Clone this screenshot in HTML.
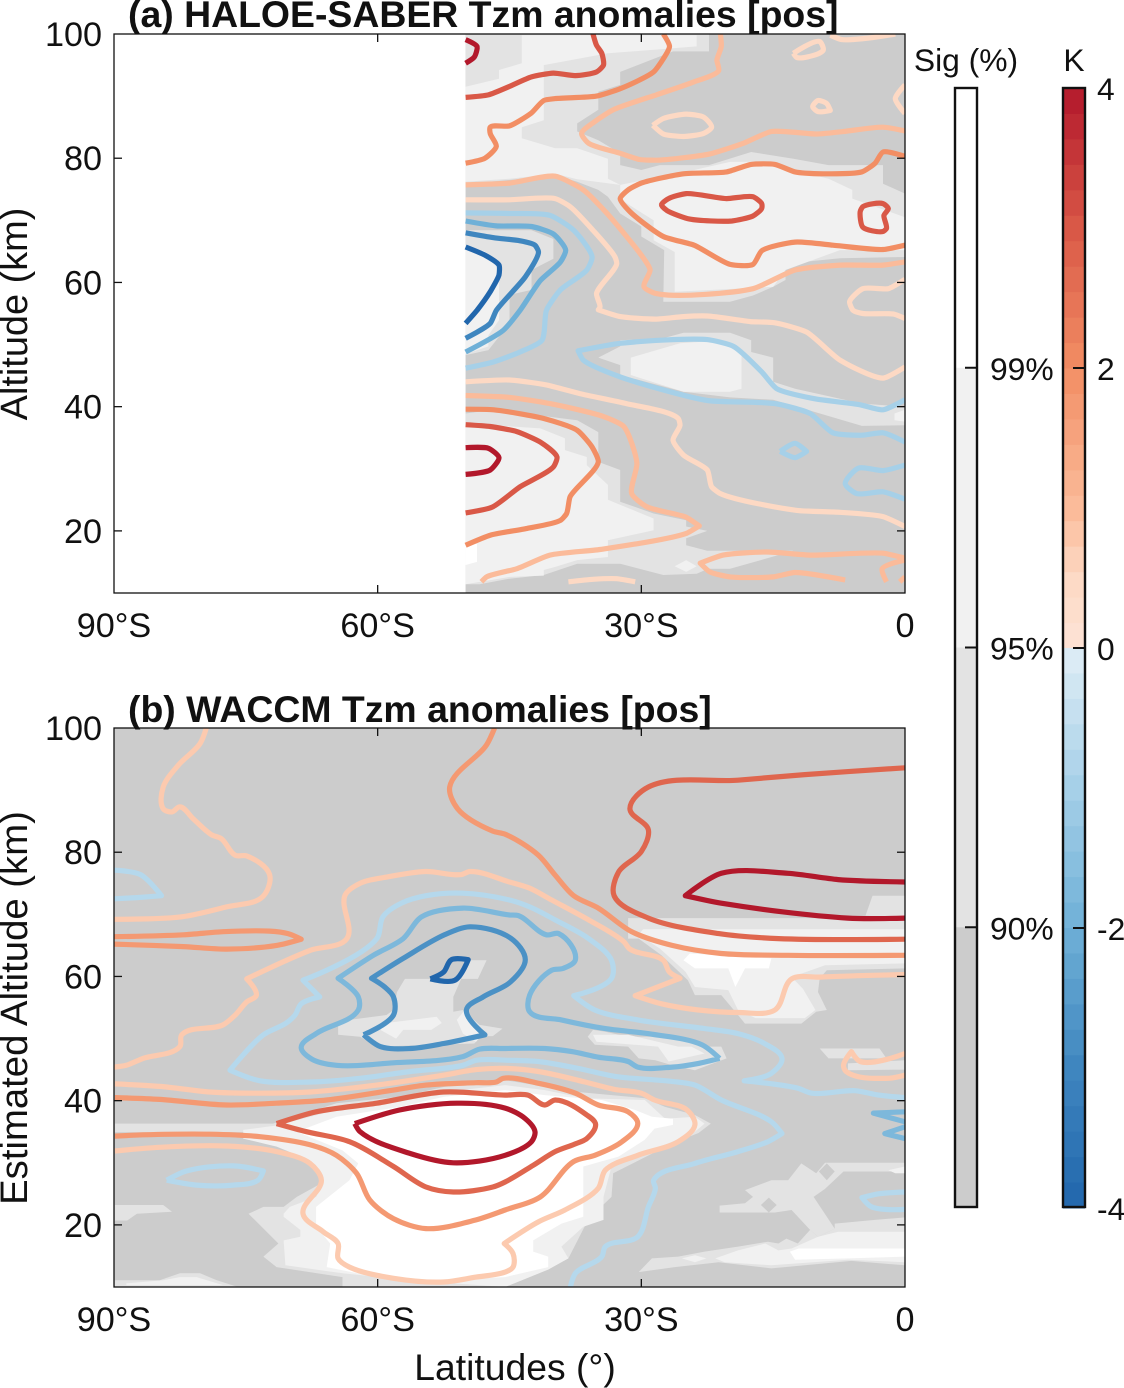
<!DOCTYPE html>
<html lang="en">
<head>
<meta charset="utf-8">
<title>HALOE-SABER and WACCM Tzm anomalies</title>
<style>
html,body{margin:0;padding:0;background:#fff;}
svg{display:block;font-family:"Liberation Sans",Arial,sans-serif;}
</style>
</head>
<body>
<svg id="chart" xmlns="http://www.w3.org/2000/svg" width="1124" height="1388" viewBox="0 0 1124 1388">
<defs>
<clipPath id="clip-a"><rect x="114" y="34" width="791" height="559"/></clipPath>
<clipPath id="clip-b"><rect x="114" y="728" width="791" height="559"/></clipPath>
</defs>
<g id="panel-a"></g>
<g id="panel-b"></g>
<g id="bars"></g>
<text x="128" y="27" font-size="37.4" font-weight="bold" fill="#111">(a) HALOE-SABER Tzm anomalies [pos]</text>
<text x="128" y="722" font-size="37.4" font-weight="bold" fill="#111">(b) WACCM Tzm anomalies [pos]</text>
<text transform="translate(27,314) rotate(-90)" text-anchor="middle" font-size="37.9" fill="#111">Altitude (km)</text>
<text transform="translate(27,1008) rotate(-90)" text-anchor="middle" font-size="38.3" fill="#111">Estimated Altitude (km)</text>
<text x="515" y="1380" text-anchor="middle" font-size="37.3" fill="#111">Latitudes (°)</text>
<text x="966" y="71" text-anchor="middle" font-size="31.8" fill="#111">Sig (%)</text>
<text x="1074" y="71" text-anchor="middle" font-size="31.8" fill="#111">K</text>
</svg>
<script>
const latTicks = [-90, -60, -30, 0];
const latTickLabels = ['90°S', '60°S', '30°S', '0'];
const altTicks = [20, 40, 60, 80, 100];
const altTickLabels = ['20', '40', '60', '80', '100'];

const cmapValues = [-4, -3, -2, -1, 0, 0, 0.5, 1, 2, 3, 4];
const cmapColors = ['#2166ac', '#3f86bf', '#6fb0d7', '#a6d0e8', '#e0eef6', '#fde3d6', '#fdd9c4', '#fbbb9a', '#f28e64', '#d95847', '#b2182b'];
const kelvinTicks = [4, 2, 0, -2, -4];
const sigClasses = [100, 97, 92, 85];
const sigTickLabels = ['99%', '95%', '90%'];

/* significance shading: [significance %, [[lat, alt], ...]] */
const panelAShade = [
[92, [[-50,100],[-22.3,100],[-22.3,97.2],[-26.4,97.2],[-32.4,93.9],[-32.4,91.8],[-34.9,90.7],[-34.9,87.8],[-37.3,85.6],[-37.3,84.3],[-34.9,82.9],[-32.4,80.8],[-32.4,78.9],[-30,78.1],[-27.9,78.9],[-22.3,78.9],[-17.5,81],[-12.7,79.9],[-8.7,78.9],[-2.5,78.9],[-2.5,75.9],[0,74.3],[0,64.1],[-7.4,63.9],[-13.6,63],[-13.6,60.4],[-15,59.3],[-17.3,57.9],[-19.9,56.9],[-27.5,56.9],[-27.4,65.2],[-30,67.4],[-30,69],[-32.4,71.1],[-33.8,73.8],[-34.9,74.9],[-37.3,76.2],[-39.8,77.3],[-45,76.5],[-50,75.9]]],
[97, [[-43.6,99.8],[-23.7,99.8],[-23.7,98],[-33.8,96.9],[-41.1,95],[-41.1,86.1],[-43.6,85],[-43.6,83.2],[-39.8,81.6],[-37.3,81.6],[-33.8,79.9],[-33.8,76.7],[-32.4,75.7],[-37.3,76.6],[-39.8,77.5],[-45,76.7],[-50,76.2],[-50,91.5],[-46.2,92.8],[-46.2,94.2],[-43.6,95.3]]],
[97, [[-32.4,75.7],[-24,78.1],[-19.9,79.4],[-16.5,79.4],[-8.7,76.7],[-6,74.9],[-6,73.5],[0,70.5],[0,65.2],[-7.4,65.2],[-13.6,62],[-15,59.3],[-26.2,58.5],[-26.2,64.9],[-28.6,66.8],[-28.6,70],[-31.3,72.4],[-32.4,73.5]]],
[92, [[-50,68.4],[-42.5,68.4],[-40,67],[-40,63.8],[-42.5,62],[-42.5,58.8],[-45,58],[-45,53.4],[-47.4,49.1],[-50,48.3]]],
[97, [[-50,66],[-47.8,65],[-46.2,63],[-46.2,59.3],[-46.2,55.5],[-46.2,53.9],[-47.4,51.5],[-47.4,49.7],[-50,48.5]]],
[92, [[-34.9,47.9],[-32.4,49.7],[-32.4,50.7],[-27.5,51],[-25.2,51.9],[-19.9,51.9],[-17.5,50.7],[-17.5,48.8],[-15,47.9],[-15,44],[-12.5,42.9],[-4.9,40.5],[0,40],[0,37],[-4.9,36.9],[-10.4,39.2],[-15,41.1],[-19.9,41.5],[-25.2,42.4],[-32.4,45.1],[-32.4,46.7]]],
[97, [[-31.2,47.9],[-25.6,50.2],[-22.5,50.5],[-19.9,50.2],[-18.6,48.8],[-18.6,42.9],[-19.9,42.4],[-25.2,42.4],[-31.2,45.1]]],
[97, [[-1.2,38.9],[0,39.5],[0,37.6],[-1.2,37.8]]],
[92, [[-50,38.9],[-46.8,39.5],[-37.3,37.8],[-34.9,35.9],[-34.9,31.1],[-32.4,29.8],[-32.4,24.7],[-28.6,22.8],[-24.9,21.7],[-24.9,20.7],[-22.5,20],[-24.9,18.8],[-24.9,17.7],[-22.5,16.8],[-12.7,16.8],[-19.9,13.9],[-22.4,13.9],[-23.7,13.1],[-27.5,12.9],[-32.4,14.7],[-37.3,14.7],[-41.1,12.9],[-45,12.3],[-48.4,11.4],[-50,11.4]]],
[97, [[-50,37.3],[-41.5,36.5],[-38.7,34.9],[-38.7,33],[-36.2,31.9],[-36.2,30.6],[-33.8,27.4],[-33.8,25],[-28.6,22],[-28.6,20.1],[-33.8,18.5],[-33.8,15.8],[-37.3,15.3],[-39.8,14.2],[-41.1,13.7],[-41.1,12.8],[-45,12.6],[-50,11.4]]],
[100, [[-50,17.9],[-48.7,17.9],[-48.7,15],[-50,14.5]]],
[97, [[-26.2,14.3],[-24.9,15.3],[-23.7,14.3],[-24.9,13.4]]]
];

/* contour lines: [level in K, [[lat, alt], ...]] */
const panelAContours = [
[4, [[-50,99.1],[-48.7,98],[-49,96.3],[-50,95.3]]],
[3, [[-50,89.8],[-47.4,90.2],[-45.1,91.5],[-42.5,93.1],[-40,93.7],[-37.5,93.3],[-35.1,93.9],[-34.3,95],[-34.5,96.9],[-35.1,98.2],[-35.5,100]]],
[2, [[-50,79.2],[-47.8,80],[-46.5,81.9],[-47.2,84],[-47.2,85],[-45,85.2],[-42.5,87.3],[-41.1,89.3],[-39.8,89.6],[-35.1,90],[-32.4,91.2],[-28.6,93.9],[-27.5,96],[-26.8,98],[-27.5,100]]],
[1, [[-21,100],[-20.9,98],[-21.4,95.8],[-21.2,94.1],[-24,92.3],[-28.3,90.2],[-33.2,87.8],[-35.3,85.9],[-36.8,84],[-36,82.4],[-32.4,80.8],[-30.2,79.8],[-27.9,79.7],[-22.2,80.7],[-18.4,82.4],[-15.2,84.3],[-10,83.9],[-7,84.3],[-2.5,85],[0,84.4]]],
[0.5, [[-28.7,85.3],[-27.5,86.4],[-24.9,87.1],[-22.9,86.6],[-22,85],[-22.9,84],[-25.2,83.5],[-27.5,83.9],[-28.7,85.3]]],
[0.5, [[-12.7,96.9],[-9.7,98.8],[-9.3,97.4],[-9.9,96.8],[-12.3,96.2],[-12.7,96.9]]],
[0.5, [[-10.5,88.3],[-9.9,89.3],[-8.9,88.8],[-8.5,87.7],[-9.9,87.5],[-10.5,88.3]]],
[0.5, [[-8.5,99.8],[-7.2,99.1],[-4.4,99.3],[-1.1,100]]],
[0.5, [[0,91.8],[-1.1,89.6],[0,87.2]]],
[2, [[0,80.3],[-2.5,81],[-3.4,79.2],[-4.9,77.8],[-9.3,77.5],[-12.5,77.8],[-14.8,79],[-17.5,79],[-20.3,77.8],[-25.2,77.5],[-30,76],[-31.5,74.9],[-32.4,73.5],[-31.3,71.4],[-27.5,67.4],[-24,66],[-19.9,62.9],[-17.3,62.9],[-16.3,65.1],[-12.5,66.5],[-8.2,66],[-2.5,65.3],[0,66]]],
[3, [[-27.7,72.5],[-26.9,73.5],[-24.9,74.3],[-20.3,73.5],[-17.3,73.8],[-16.3,72.7],[-16.3,71.9],[-17.3,70.7],[-19.7,69.9],[-24.5,70.2],[-27.1,71.6],[-27.7,72.5]]],
[3, [[-5.1,71.4],[-4.8,72.2],[-2.5,72.7],[-1.9,71.9],[-2.4,70.8],[-2.1,68.7],[-2.5,68.2],[-4.8,68.9],[-5.1,71.4]]],
[1, [[-50,75.7],[-45,76],[-39.8,77.1],[-36.6,74.9],[-33.9,71.1],[-29.6,63.6],[-29,62],[-29.7,59.3],[-28.3,58.2],[-17.3,59],[-12.5,62],[-7.4,62.8],[-2.5,62.8],[0,63.3]]],
[0.5, [[-50,73.3],[-45,73.3],[-39.8,73.5],[-38.1,72.2],[-35.5,68.4],[-33,64.1],[-32.8,63],[-35.1,58.2],[-34.7,56.1],[-34.9,55.6],[-32.4,54.5],[-28.3,54.1],[-25.2,54.5],[-22.5,54.6],[-17.6,53.7],[-14.8,53.5],[-11.2,52],[-7.4,47.5],[-2.5,44.6],[0,46.4]]],
[0.5, [[0,60.5],[-1.9,59],[-4.8,59],[-6.3,56.9],[-5.9,55.5],[-4.8,55],[-1.3,54.9],[0,54.2]]],
[-1, [[-50,71.2],[-45,71.1],[-40.4,70.8],[-37.7,68.4],[-35.6,64.1],[-36.2,62],[-39.2,58.8],[-40.8,55.5],[-41.3,50.7],[-43.8,48.8],[-46.8,47.2],[-50,46.2]]],
[-2, [[-50,69.9],[-46.5,69.1],[-42.5,69],[-40,67.8],[-38.6,65.2],[-39.2,63.3],[-41.5,60.3],[-43.8,55.5],[-45.7,52.3],[-50,48.8]]],
[-3, [[-50,68],[-46.8,67.2],[-43.8,66.7],[-42.1,66],[-41.7,64.9],[-43.2,60.9],[-46.5,55.5],[-47.2,53.4],[-50,51]]],
[-4, [[-50,65.7],[-47.8,64.4],[-46.2,62.8],[-46.2,61.2],[-47.2,58.5],[-48.7,55.5],[-50,53.4]]],
[-1, [[0,41.1],[-2.5,39.5],[-5.1,40.3],[-10.4,41.3],[-14.6,42.9],[-16.3,45.6],[-19.5,49.7],[-22.5,50.8],[-32.4,50.2],[-37.2,49],[-36.6,47.5],[-32.4,44.8],[-22.5,41],[-14.8,40.5],[-10.8,38.9],[-8.2,35.8],[-4.9,35.4],[-2.5,35.8],[0,34.3]]],
[-1, [[-14.2,32.8],[-12.5,34.1],[-11.2,32.8],[-12.5,31.8],[-14.2,32.8]]],
[-1, [[0,30.6],[-2.5,29.7],[-5.3,30.1],[-6.8,27.6],[-5.5,26],[-2.5,26.3],[0,25.1]]],
[0.5, [[-50,44],[-45,44.3],[-40.8,43.5],[-37,42.1],[-31.7,40.5],[-25.8,38.1],[-25.6,37],[-26.4,34.6],[-25.2,32.2],[-22.5,29.8],[-22,27.1],[-21,26],[-12.3,23.3],[-7.4,23],[-2.5,22.3],[0,20.7]]],
[1, [[-50,41.8],[-45,41.5],[-40.4,40.5],[-34.3,38.4],[-32,36.8],[-30.5,30.9],[-31.1,26],[-29.4,23.9],[-24.9,22.2],[-23.4,20.8],[-24.9,19.6],[-34.7,17],[-40.4,16.1],[-44.2,13.9],[-47.6,12.6],[-48.2,11.8]]],
[2, [[-50,39.6],[-46.8,39.5],[-41.1,38.1],[-37.3,36.2],[-35.6,33.5],[-34.9,31.1],[-38.1,25.5],[-38.5,22.8],[-39.2,21.7],[-43,20.4],[-47.2,19.3],[-50,17.7]]],
[3, [[-50,37.1],[-47.2,36.8],[-44.2,36],[-41.5,34.3],[-39.6,31.9],[-40,30.3],[-43.8,27.1],[-47,23.8],[-50,22.9]]],
[4, [[-50,33.4],[-47.4,33.3],[-46.2,31.8],[-47.2,29.8],[-50,29.1]]],
[1, [[0,15.6],[-2.5,16.4],[-10.8,16.1],[-15.7,16.6],[-20.7,16.1],[-23.3,14.8],[-22.2,13.4],[-19.9,12.6],[-15,12.6],[-12.5,13.3],[-6.8,12.1]]],
[1, [[0,15.3],[-2.6,13.9],[-2.1,11.8]]],
[1, [[-0.6,11.8],[0,12.6]]],
[0.5, [[-38.3,11.8],[-35.5,12.2],[-32.8,12.3],[-30.7,11.8]]]
];

const panelBShade = [
[92, [[-89.9,36.3],[-71.9,36.3],[-64.7,39.6],[-57.5,40.6],[-52.5,42.2],[-45.5,43.3],[-37.2,41.4],[-29.6,40.4],[-27.3,39],[-23.9,37.7],[-22.1,36.3],[-23.5,34.8],[-26.5,33.1],[-33.2,28.3],[-33.4,24.5],[-36,21],[-38.3,14.6],[-41.7,12.2],[-45.5,10],[-64,10],[-64,11.6],[-71.5,13.2],[-73,14.9],[-71.3,17],[-74.7,21.8],[-73,22.9],[-70.7,22.9],[-69.2,24.5],[-66.4,26.7],[-65.4,28.6],[-67,31],[-71.5,34.5],[-75.3,34.9],[-89.9,34.9]]],
[97, [[-75.3,35.3],[-71.5,36],[-64.7,38.5],[-57.5,39.8],[-52.5,41.4],[-45.5,42.5],[-41,41.7],[-36.4,40.4],[-29.6,40.1],[-27.3,37.1],[-23.9,37.4],[-22.8,36.3],[-23.9,35],[-26.5,33.4],[-33.4,29.4],[-34.3,24.5],[-34.3,20.8],[-36.6,19.7],[-39.1,16.5],[-38.3,14.6],[-40.6,12.8],[-45.5,10],[-56.3,11.1],[-64,12.2],[-70.5,13.5],[-70.7,17.5],[-68.8,18.1],[-68.8,19.2],[-70.7,21.3],[-70.7,21.8],[-70,22.9],[-67,24.5],[-66.2,26.7],[-67.7,30.4],[-71.5,32.6],[-75.3,33.9]]],
[100, [[-69.2,35],[-64,32],[-62.2,29.9],[-63.2,27.2],[-67,22.9],[-67,19.7],[-65.4,17],[-65.8,13.2],[-60.1,11.6],[-52.5,11.1],[-45.5,11.6],[-40.6,13.2],[-40.6,14.9],[-42.3,15.7],[-42.3,17.5],[-39.1,20.2],[-36.6,21.3],[-36.6,29.4],[-32.6,31],[-29.6,33.7],[-28.5,35.5],[-26.4,36.1],[-26.4,37.1],[-28.8,37.4],[-30.7,38.5],[-34.5,40.1],[-41,40.9],[-45.5,41.7],[-52.5,40.6],[-57.5,39],[-64.7,37.4]]],
[92, [[-89.9,23.2],[-84.4,23.2],[-83.4,22.1],[-87.4,21.8],[-88.5,20.7],[-89.9,20.7]]],
[92, [[-89.9,11.1],[-84.8,11.1],[-82.5,12.2],[-80.2,12.2],[-78.3,11.1],[-75.9,10],[-89.9,10]]],
[97, [[-88.6,10.6],[-84.4,11.1],[-82.5,11.6],[-80.6,11.6],[-77.6,10.3],[-88.6,10.3]]],
[92, [[-56.9,59.6],[-50.5,59.6],[-49.7,62.6],[-47.6,62.6],[-48.6,59.6],[-50.5,59.6],[-51.4,56.7],[-51.4,54.3],[-50.3,54.6],[-48.4,52.2],[-45.8,51.6],[-46.9,50.4],[-48.2,50.4],[-49,49.2],[-60.1,48.7],[-62,50.3],[-64.5,50.6],[-64.5,52.2],[-63.2,53],[-59,53.8],[-58.2,54.6],[-57.8,57.5]]],
[97, [[-59,52.5],[-53.3,53.5],[-52.7,52.5],[-53.9,51.4],[-57.1,51.4],[-57.9,50],[-59.7,51.4]]],
[97, [[-50.1,54.6],[-48.2,50.6],[-48.8,49.5],[-50.3,50.8],[-51,53]]],
[92, [[-31.5,69.4],[0,69.4],[0,61.3],[-8.9,61],[-9.7,59.7],[-9.9,57.5],[-8.9,54.6],[-10.1,54.3],[-11.8,52.4],[-18.2,52.4],[-19,53.8],[-20.9,57],[-23.9,57],[-24.7,59.4],[-27.7,63.4],[-30.3,66.1],[-31.5,66.1]]],
[92, [[-4.5,69.8],[-3.7,73],[0,73],[0,69.4]]],
[97, [[-29.8,67.6],[0,67.6],[0,62.1],[-9.1,61.8],[-12.9,59.9],[-11.6,58],[-10.2,54.6],[-11.4,53.3],[-17,53.3],[-19,54.6],[-20.1,57.8],[-23.9,58.3],[-25,60.8],[-27.9,64.5],[-30.3,66.7]]],
[100, [[-24.5,63.7],[-15.2,62.9],[-15.5,61.3],[-18.2,61.3],[-19.3,58.3],[-20.1,61.3],[-23.9,61.3],[-25.2,62.6]]],
[92, [[-36.1,50.3],[-35.5,51.4],[-34.1,51.1],[-31.5,50.3],[-25.8,50.3],[-22.8,48.7],[-20.9,48.7],[-20.3,46.8],[-23.9,44.9],[-26.5,45.7],[-28.4,46.5],[-30.3,46.8],[-31.5,48.7],[-35.3,49]]],
[97, [[-35.5,50.6],[-31.5,50.6],[-27.3,49.2],[-25.8,48.7],[-24.3,48.7],[-22.8,47.6],[-26.9,46.3],[-28.1,48.7],[-35.1,49.5]]],
[92, [[-9.7,48.4],[-2.9,48.4],[-2.1,46.8],[-8.7,46.8]]],
[92, [[-6.5,46],[0,46.5],[0,45],[-6.5,44.9]]],
[92, [[-21.1,23.1],[-18.2,23.5],[-17.3,24.5],[-18.2,25.6],[-15.2,27.2],[-13.3,27.2],[-11.8,29.9],[-10.1,28.3],[-9.1,30],[0,30],[0,28.6],[-7,28.6],[-9.1,25.8],[-10.4,24.5],[-8,19.4],[-9.9,18.1],[-10.8,19.2],[-12.9,22.4],[-14.8,22],[-21.1,22]]],
[85, [[-15.5,24.4],[-14.6,23.2],[-15.5,22],[-16.4,23.2]]],
[85, [[-8.9,29.9],[-8,28.6],[-8.9,27.2],[-9.8,28.6]]],
[97, [[-1.9,28.8],[0,29.4],[0,28.3],[-1.1,28.3]]],
[92, [[-8,20.2],[-3.4,20.8],[0,21.2],[0,13.5],[-6.1,14.2],[-15.2,13],[-21.2,14],[-26.2,13.2],[-30.3,12.4],[-28.8,14.6],[-25.8,14.9],[-22.8,15.7],[-19,16.5],[-15.6,17.3],[-14.4,17],[-13.5,17.8],[-12.2,17],[-10.8,19.2],[-9.9,18.1],[-8,19.4]]],
[97, [[-21.6,14.6],[-19,15.9],[-15.9,17],[-14.4,15.9],[-12.9,16.2],[-9.9,18.1],[-7.6,18.9],[0,18.9],[0,14],[-6.5,14.4],[-15.2,13.5],[-20.5,14]]],
[97, [[-25.4,14.6],[-23.9,15.1],[-22.6,14.6],[-23.9,14]]],
[100, [[-13.1,15.7],[-12.1,16.2],[0,16.2],[0,14.9],[-6.5,14.6],[-12.5,14.4]]]
];

const panelBContours = [
[0.75, [[-79.5,100],[-80.2,97.5],[-82.7,94],[-84.4,90.5],[-84.4,87],[-83.4,86.5],[-82.5,87.3],[-81,85.4],[-78.9,82.8],[-77.8,82.2],[-76.2,79.5],[-74.9,79.4],[-72.3,76.4],[-73.1,72.8],[-77.2,71.2],[-82.3,69.6],[-90,69.2]]],
[-0.75, [[-90,77.1],[-87,76.4],[-84.6,73],[-87.4,72.7],[-90,72.5]]],
[1.75, [[-90,66.4],[-82.1,66.7],[-77.6,67.2],[-72.3,67.3],[-70.2,66.9],[-68.7,66],[-71.5,65],[-77.2,64.4],[-82.1,64.8],[-90,65.2]]],
[0.75, [[-90,45.4],[-88.6,45.7],[-86.7,46.8],[-82.5,48.7],[-82.3,50.6],[-77.6,52.2],[-76.2,53.8],[-74.9,55.9],[-73.8,57],[-74.9,59.6],[-67.7,64.2],[-63.5,66.1],[-63.7,73.1],[-62,75],[-59,76],[-54.5,76.9],[-50.5,76.4],[-49.5,76.9],[-45,75.2],[-42.7,74.2],[-40.2,72.3],[-36,69.1],[-32,65.6],[-31.3,64.4],[-27.5,62.6],[-26.8,60.7],[-25.6,59.7],[-30.7,56.9],[-27.7,55.6],[-23.5,54.6],[-19,54.2],[-14.8,54.6],[-12.9,59.6],[-9.7,59.9],[0,60.3]]],
[-0.75, [[-38.1,9.8],[-37.5,12.2],[-34.5,14.9],[-34.1,16.5],[-30.4,18.1],[-29.2,22.9],[-28.4,25.9],[-28.6,27.2],[-23.9,29.9],[-19,31.8],[-15.6,33.4],[-14,34.7],[-15.2,36.6],[-20.9,40.1],[-23.9,42.5],[-26.5,43.1],[-33,43.9],[-37.2,45.2],[-41.7,46.3],[-45,46.5],[-48.8,46.5],[-50.3,45.7],[-56.3,44.7],[-62,43.6],[-67.7,43],[-73.4,43.2],[-76.8,44.9],[-73,50.6],[-70.4,52.5],[-69.4,53.8],[-68.7,55.6],[-66.6,56.7],[-68.5,59.4],[-60.1,66.1],[-59.4,69.6],[-57.3,71.8],[-54.5,73],[-50.3,73.4],[-45,72.3],[-42.7,71.2],[-39.8,69.1],[-36,66.1],[-33.4,62.6],[-33.4,59.7],[-37.7,56.9],[-35.3,54.6],[-30.4,53],[-22.8,51.6],[-19,50.8],[-16,49.2],[-14,46.8],[-15.2,44.4],[-16.7,43.6],[-18.3,43.2],[-12.2,42],[-10.6,41.2],[-5.7,41.6],[-3,40.9],[0,40.5]]],
[-0.75, [[-84,27.2],[-81.7,28.7],[-76.4,29.5],[-73,28.7],[-73.6,27.2],[-76.4,26.4],[-80.6,26.4],[-84,27.2]]],
[-1.75, [[-21.1,46.8],[-23.5,46],[-26.5,45.4],[-30.4,45.4],[-31.5,46.3],[-34.9,47],[-37.9,47.9],[-41,48.4],[-45.5,48.4],[-48.4,48.3],[-50.3,47.1],[-58.2,46.1],[-64.7,45.7],[-67.5,46.7],[-68.7,48.6],[-67,50.8],[-62.2,54.6],[-62.2,56.7],[-64.5,59.7],[-60.5,63.4],[-57.1,66.1],[-55,69.6],[-50.3,71],[-45,69.9],[-44,69.8],[-40.8,66.7],[-39.4,66.9],[-37.5,62.7],[-38.9,61.3],[-40.2,61],[-42.7,57],[-42.7,54.3],[-39.1,53],[-34.1,51.6],[-28.8,50.7],[-23.1,49],[-21.1,46.8]]],
[-2.75, [[-61.6,50.6],[-59.7,48.7],[-56.3,48.4],[-52.5,49.2],[-47.8,50.6],[-49.9,54.6],[-48,56.7],[-44.9,59.1],[-43.2,62.7],[-44.8,66.1],[-49.5,68],[-52.4,66.7],[-57.1,62.9],[-60.7,59.7],[-59.2,58.3],[-58.2,56.7],[-58.2,53.8],[-61.6,50.6]]],
[-4, [[-54,59.6],[-52.5,60.7],[-51.6,62.7],[-49.7,62.7],[-51.2,59.4],[-54,59.6]]],
[0.75, [[-89.9,42.7],[-84.8,42.3],[-79.1,41.4],[-73.4,41.2],[-67.7,41.4],[-60.1,42.5],[-52.5,44.1],[-48.8,45],[-45.5,45.2],[-41.7,44.7],[-36.4,43],[-33,41.8],[-30,41.2],[-28.5,40.1],[-24.8,38.5],[-23.9,36.1],[-25.8,33.4],[-30.4,31.2],[-34.1,28.8],[-34.9,25.9],[-38.7,22.4],[-41.7,20.5],[-45.6,17],[-44.6,15.4],[-44.6,13.2],[-45.5,12.4],[-48.8,11.6],[-52.5,10.8],[-58.2,11.4],[-63.2,13.2],[-64.5,14.6],[-64.5,17],[-66.2,18.9],[-68.5,21.8],[-66.4,27.2],[-67.7,29.9],[-71.5,31.8],[-77.2,32.7],[-84.8,32.5],[-89.9,31.9]]],
[1.75, [[-89.9,40.5],[-84.8,40.2],[-77.2,39.3],[-71.5,39.6],[-65.8,40.1],[-58.2,41.7],[-54.5,42.5],[-48.8,42.9],[-46.5,43],[-45.7,43.6],[-41.7,42.8],[-37.5,41.2],[-34.9,39.3],[-31.5,38.2],[-30.4,36.3],[-32.2,33.4],[-35.3,31.2],[-37.7,30.2],[-41.5,24.5],[-45.5,22.4],[-48.8,20.8],[-54.5,19.4],[-58.2,21],[-60.9,24],[-62.4,28.3],[-64.7,31.2],[-67.7,32.9],[-73.4,34.2],[-79.1,34.6],[-86.7,34.5],[-89.9,34.3]]],
[2.75, [[-71.5,36.3],[-67,38.2],[-60.1,39.6],[-52.5,41.4],[-45.5,40.9],[-42.9,40.9],[-41,39.3],[-39.8,40.1],[-36.2,37.7],[-35.2,36.2],[-36.2,33.9],[-37.4,33.1],[-39.8,31.8],[-42.3,29.6],[-45.5,26.9],[-46.9,26.1],[-51.4,25.3],[-54.5,26.1],[-58.2,29.4],[-63.2,33.4],[-68.1,35],[-71.5,36.3]]],
[4, [[-62.6,36.3],[-57.5,38.5],[-51,39.6],[-45.5,38.8],[-43.2,37.1],[-42.1,35],[-42.5,33.4],[-45.5,31.2],[-51.4,30],[-56.3,31.5],[-62,35],[-62.6,36.3]]],
[2.75, [[0,93.6],[-11.4,92.5],[-19,91.6],[-29.2,90.5],[-31.3,87],[-29.2,83.6],[-30,80.1],[-32.6,76.8],[-33.1,73],[-29.2,69.4],[-21.2,66.9],[-14.4,66.1],[0,66]]],
[4, [[0,75.2],[-7.6,75.6],[-13.3,76.6],[-20.9,76.6],[-25,73],[-20.9,71.8],[-6.5,69.4],[0,69.4]]],
[1.75, [[-46.7,100],[-47.6,97.3],[-51.8,90.5],[-50.9,87],[-46.9,83.4],[-45.5,82.9],[-41.7,79.5],[-39.8,76.3],[-37.7,73],[-34.9,71],[-31.1,67.2],[-26.5,65],[-20.9,63.7],[-13.3,63.4],[0,63.4]]],
[0.75, [[0,47.6],[-5.1,46.3],[-6.1,47.9],[-7,45.7],[-6.7,44.7],[-1.9,43.6],[0,44.1]]],
[-1.75, [[0,38.2],[-3.6,38],[0,36.6]]],
[-1.75, [[0,35.8],[-2.3,34.7],[0,33.9]]],
[-0.75, [[0,25.3],[-3,25],[-4.9,24.4],[-3.8,22.9],[0,22.5]]]
];

const xScale = lat => 114 + (lat + 90) * 791 / 90;
const yScaleA = alt => 34 + (100 - alt) * 559 / 90;
const yScaleB = alt => 728 + (100 - alt) * 559 / 90;
const cbarY = k => 648 - k * 140;
const NS = 'http://www.w3.org/2000/svg';

function mk(parent, tag, attrs, text) {
  const el = document.createElementNS(NS, tag);
  for (const k in attrs) el.setAttribute(k, attrs[k]);
  if (text !== undefined) el.textContent = text;
  parent.appendChild(el);
  return el;
}
function hex2rgb(h) { return [1, 3, 5].map(i => parseInt(h.substr(i, 2), 16)); }
function colorFor(v) {
  let i = v >= 0 ? 5 : 0;
  const last = v >= 0 ? 9 : 3;
  while (i < last && v > cmapValues[i + 1]) i++;
  const a = cmapValues[i], b = cmapValues[i + 1];
  const t = Math.max(0, Math.min(1, (v - a) / (b - a)));
  const ca = hex2rgb(cmapColors[i]), cb = hex2rgb(cmapColors[i + 1]);
  return 'rgb(' + ca.map((c, j) => Math.round(c + (cb[j] - c) * t)).join(',') + ')';
}
function sigColor(s) {
  if (s >= 99) return '#ffffff';
  if (s >= 95) return '#f1f1f1';
  if (s >= 90) return '#e3e3e3';
  return '#cccccc';
}
function ptsStr(pts, yS) {
  return pts.map(p => xScale(p[0]).toFixed(1) + ',' + yS(p[1]).toFixed(1)).join(' ');
}
function unit(dx, dy) {
  const n = Math.hypot(dx, dy) || 1;
  return [dx / n, dy / n];
}
/* rounded path through scaled points; sharp reversals stay as corners */
function smoothPath(pts, yS, k) {
  const P = pts.map(p => [xScale(p[0]), yS(p[1])]);
  const n = P.length;
  const closed = n > 3 && P[0][0] === P[n - 1][0] && P[0][1] === P[n - 1][1];
  function tangent(i) {
    let prev = i - 1, next = i + 1;
    if (closed) {
      if (i === 0 || i === n - 1) { prev = n - 2; next = 1; }
    } else {
      if (i === 0 || i === n - 1) return [0, 0];
    }
    const a = unit(P[i][0] - P[prev][0], P[i][1] - P[prev][1]);
    const b = unit(P[next][0] - P[i][0], P[next][1] - P[i][1]);
    if (a[0] * b[0] + a[1] * b[1] < -0.1) return [0, 0];
    return unit(a[0] + b[0], a[1] + b[1]);
  }
  let d = 'M' + P[0][0].toFixed(1) + ' ' + P[0][1].toFixed(1);
  for (let i = 0; i < n - 1; i++) {
    const len = Math.hypot(P[i + 1][0] - P[i][0], P[i + 1][1] - P[i][1]);
    const t0 = tangent(i), t1 = tangent(i + 1);
    d += 'C' + (P[i][0] + t0[0] * len * k).toFixed(1) + ' ' + (P[i][1] + t0[1] * len * k).toFixed(1) + ' ' +
      (P[i + 1][0] - t1[0] * len * k).toFixed(1) + ' ' + (P[i + 1][1] - t1[1] * len * k).toFixed(1) + ' ' +
      P[i + 1][0].toFixed(1) + ' ' + P[i + 1][1].toFixed(1);
  }
  return d;
}

function drawPanel(rootId, clipId, yS, minLat, shade, contours, smooth) {
  const root = document.getElementById(rootId);
  const clip = mk(root, 'g', { 'clip-path': 'url(#' + clipId + ')' });
  const bg = mk(clip, 'rect', { x: xScale(minLat), y: yS(100), width: xScale(0) - xScale(minLat), height: yS(10) - yS(100), fill: '#cccccc' });
  
  
  shade.forEach(s => {
    const p = mk(clip, 'polygon', { points: ptsStr(s[1], yS), fill: sigColor(s[0]) });
    
    
  });
  contours.forEach(c => {
    const l = mk(clip, 'path', { d: smoothPath(c[1], yS, smooth), fill: 'none', stroke: colorFor(c[0]), 'stroke-width': 5.2, 'stroke-linejoin': 'round', 'stroke-linecap': 'butt' });
    
    
  });
  const box = mk(root, 'rect', { x: 114, y: yS(100), width: 791, height: yS(10) - yS(100), fill: 'none', stroke: '#111', 'stroke-width': 1.3 });
  
  
  latTicks.forEach((lat, i) => {
    const x = xScale(lat);
    if (i > 0 && i < latTicks.length - 1) {
      mk(root, 'line', { x1: x, x2: x, y1: yS(100), y2: yS(100) + 8, stroke: '#111', 'stroke-width': 1.3 });
      mk(root, 'line', { x1: x, x2: x, y1: yS(10), y2: yS(10) - 8, stroke: '#111', 'stroke-width': 1.3 });
    }
    const t = mk(root, 'text', { x: x, y: yS(10) + 44, 'text-anchor': 'middle', 'font-size': 34.2, fill: '#111' }, latTickLabels[i]);
    
    
  });
  altTicks.forEach((alt, i) => {
    const y = yS(alt);
    if (alt < 100) {
      mk(root, 'line', { x1: 114, x2: 122, y1: y, y2: y, stroke: '#111', 'stroke-width': 1.3 });
      mk(root, 'line', { x1: 905, x2: 897, y1: y, y2: y, stroke: '#111', 'stroke-width': 1.3 });
    }
    const t = mk(root, 'text', { x: 102, y: y + 12, 'text-anchor': 'end', 'font-size': 34.2, fill: '#111' }, altTickLabels[i]);
    
    
  });
}

function drawBars() {
  const root = document.getElementById('bars');
  const top = 88, seg = 1119 / sigClasses.length;
  sigClasses.forEach((s, i) => {
    const r = mk(root, 'rect', { x: 955, y: top + i * seg, width: 22, height: seg + 0.5, fill: sigColor(s) });
    
    
  });
  const f1 = mk(root, 'rect', { x: 955, y: top, width: 22, height: 1119, fill: 'none', stroke: '#111', 'stroke-width': 2.4 });
  
  
  sigTickLabels.forEach((lab, i) => {
    const y = top + (i + 1) * seg;
    mk(root, 'line', { x1: 965, x2: 977, y1: y, y2: y, stroke: '#111', 'stroke-width': 2 });
    const t = mk(root, 'text', { x: 990, y: y + 12, 'font-size': 31.8, fill: '#111' }, lab);
    
    
  });
  const steps = 22, dk = 4 / steps;
  for (let i = 0; i < steps; i++) {
    [1, -1].forEach(sign => {
      const v0 = sign * i * dk, v1 = sign * (i + 1) * dk;
      const r = mk(root, 'rect', { x: 1063, y: Math.min(cbarY(v0), cbarY(v1)), width: 22, height: Math.abs(cbarY(v1) - cbarY(v0)) + 0.5, fill: colorFor(sign * (i + 0.5) * dk) });
      
      
    });
  }
  const f2 = mk(root, 'rect', { x: 1063, y: top, width: 22, height: 1119, fill: 'none', stroke: '#111', 'stroke-width': 2.4 });
  
  
  kelvinTicks.forEach(k => {
    const y = cbarY(k);
    if (Math.abs(k) < 4) mk(root, 'line', { x1: 1073, x2: 1085, y1: y, y2: y, stroke: '#111', 'stroke-width': 2 });
    const t = mk(root, 'text', { x: 1097, y: y + 12, 'font-size': 31.8, fill: '#111' }, String(k));
    
    
  });
}

drawPanel('panel-a', 'clip-a', yScaleA, -50, panelAShade, panelAContours, 0.2);
drawPanel('panel-b', 'clip-b', yScaleB, -90, panelBShade, panelBContours, 0.3);
drawBars();
</script>
</body>
</html>
